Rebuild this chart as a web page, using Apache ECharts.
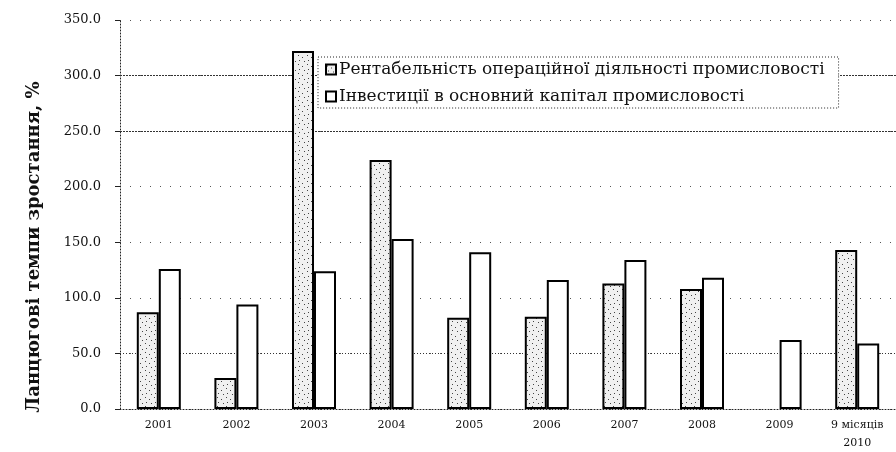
<!DOCTYPE html>
<html lang="uk">
<head>
<meta charset="UTF-8">
<title>Ланцюгові темпи зростання</title>
<style>
    html, body { margin: 0; padding: 0; background: #fff; }
    #chart { width: 896px; height: 452px; }
</style>
</head>
<body>
<div id="chart"></div>
<script src="https://cdn.jsdelivr.net/npm/echarts@6/dist/echarts.min.js"></script>
<script>
    var categories = ['2001', '2002', '2003', '2004', '2005', '2006', '2007', '2008', '2009', '9 місяців\n2010'];
    var rentabelnist = [87, 28, 322, 224, 82, 83, 113, 108, '-', 143];
    var investytsii = [126, 94, 124, 153, 141, 116, 134, 118, 62, 59];
    var seriesNames = ['Рентабельність операційної діяльності промисловості', 'Інвестиції в основний капітал промисловості'];
    var yTicks = [0, 50, 100, 150, 200, 250, 300, 350];
    var yName = 'Ланцюгові темпи зростання, %';

    // stippled fill for the first series
    function stipple() {
        var c = document.createElement('canvas');
        c.width = 9; c.height = 9;
        var ctx = c.getContext('2d');
        ctx.fillStyle = '#f0f0f0';
        ctx.fillRect(0, 0, 9, 9);
        ctx.fillStyle = '#444';
        [[1, 1], [5, 3], [2, 6], [7, 7]].forEach(function (p) {
            ctx.fillRect(p[0], p[1], 1, 1);
        });
        return c;
    }

    var chart = echarts.init(document.getElementById('chart'));
    var serif = 'DejaVu Serif';

    var option = {
        backgroundColor: '#fff',
        animation: false,
        grid: { left: 120, right: -8, top: 20, bottom: 43 },
        graphic: [{
            type: 'text',
            x: 34,
            y: 247,
            rotation: Math.PI / 2,
            style: {
                text: yName,
                fontFamily: serif, fontSize: 18, fontWeight: 'bold', fill: '#111',
                align: 'center', verticalAlign: 'middle'
            }
        }],
        legend: {
            orient: 'vertical',
            left: 318,
            top: 57,
            icon: 'rect',
            itemWidth: 10,
            itemHeight: 10,
            itemGap: 10,
            padding: [4, 14, 3, 7],
            backgroundColor: '#fff',
            borderColor: '#222',
            borderWidth: 1,
            borderType: [1, 2],
            textStyle: { fontFamily: serif, fontSize: 17, color: '#111', lineHeight: 17, padding: [0, 0, 0, -2] },
            data: seriesNames
        },
        xAxis: {
            type: 'category',
            data: categories,
            axisLine: { lineStyle: { color: '#222', type: [1, 2] } },
            axisTick: { show: false },
            axisLabel: { fontFamily: serif, fontSize: 11, color: '#111', margin: 7, lineHeight: 18 }
        },
        yAxis: {
            type: 'value',
            min: 0,
            max: 350,
            interval: 50,
            axisLine: { show: true, lineStyle: { color: '#222', type: [1, 2] } },
            axisTick: { show: true, inside: false, length: 5, lineStyle: { color: '#222' } },
            axisLabel: {
                fontFamily: serif, fontSize: 13, color: '#111', margin: 19,
                formatter: function (v) { return yTicks.indexOf(v) >= 0 ? v.toFixed(1) : ''; }
            },
            splitLine: { show: true, lineStyle: { color: '#555', type: [1, 9], width: 1 } }
        },
        series: [
            {
                name: seriesNames[0],
                type: 'bar',
                data: rentabelnist,
                barWidth: 22,
                barGap: '0%',
                itemStyle: { color: { image: stipple(), repeat: 'repeat' }, borderColor: '#000', borderWidth: 2 },
                markLine: {
                    silent: true,
                    symbol: 'none',
                    z: 1,
                    label: { show: false },
                    lineStyle: { color: '#333', type: [2, 1], width: 1 },
                    data: [{ yAxis: 300 }, { yAxis: 250 }, { yAxis: 50, lineStyle: { type: [1, 2] } }]
                }
            },
            {
                name: seriesNames[1],
                type: 'bar',
                data: investytsii,
                barWidth: 22,
                itemStyle: { color: '#fff', borderColor: '#000', borderWidth: 2 }
            }
        ]
    };
    chart.setOption(option);
</script>
</body>
</html>
